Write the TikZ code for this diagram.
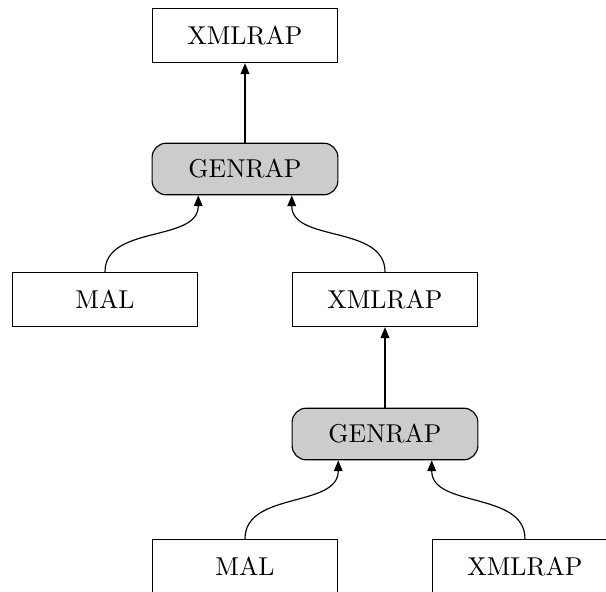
\documentclass[tikz,border=0pt]{standalone}
\usepackage{tikz}
\usetikzlibrary{positioning,arrows.meta,calc}

\tikzset{
  rapbox/.style={draw, line width=0.45pt, minimum width=72pt, minimum height=21pt, inner sep=0pt},
  genbox/.style={rapbox, rounded corners=5.5pt, fill=gray!40, minimum height=20pt},
  link/.style={-{Triangle[length=4.2pt,width=3.4pt]}, line width=0.45pt}
}

\begin{document}
\begin{tikzpicture}[x=0.3875pt, y=-0.3875pt]
  \useasboundingbox (0,0) rectangle (606,592);
  % top of the chain
  \node[rapbox] (xml1) at (245,35.5) {XMLRAP};
  \node[genbox] (gen1) at (245,169)  {GENRAP};
  \node[rapbox] (mal1) at (105,299.5) {MAL};
  \node[rapbox] (xml2) at (385,299.5) {XMLRAP};
  % second level
  \node[genbox] (gen2) at (385,434)  {GENRAP};
  \node[rapbox] (mal2) at (245,566.5) {MAL};
  \node[rapbox] (xml3) at (525,566.5) {XMLRAP};

  \coordinate (gen1l) at ($(gen1.south west)!0.25!(gen1.south east)$);
  \coordinate (gen1r) at ($(gen1.south west)!0.75!(gen1.south east)$);
  \coordinate (gen2l) at ($(gen2.south west)!0.25!(gen2.south east)$);
  \coordinate (gen2r) at ($(gen2.south west)!0.75!(gen2.south east)$);

  \draw[link] (gen1) -- (xml1);
  \draw[link] (mal1.north) to[out=90, in=-90] (gen1l);
  \draw[link] (xml2.north) to[out=90, in=-90] (gen1r);
  \draw[link] (gen2) -- (xml2);
  \draw[link] (mal2.north) to[out=90, in=-90] (gen2l);
  \draw[link] (xml3.north) to[out=90, in=-90] (gen2r);
\end{tikzpicture}
\end{document}
